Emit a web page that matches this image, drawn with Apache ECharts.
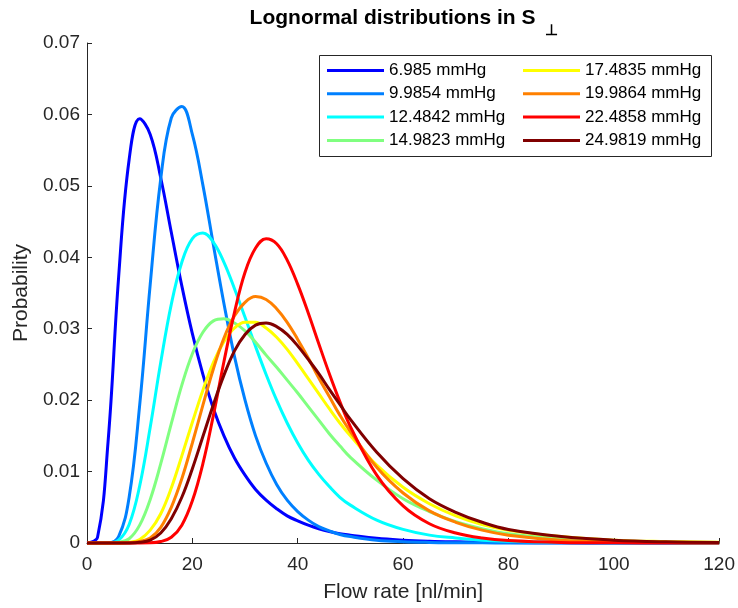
<!DOCTYPE html>
<html>
<head>
<meta charset="utf-8">
<script src="https://cdn.jsdelivr.net/npm/echarts@6/dist/echarts.min.js"></script>
<style>html,body{margin:0;padding:0;background:#fff;}#c{width:738px;height:608px;}</style>
</head>
<body>
<div id="c"></div>
<script>
const xValues = [0,2,4,6,8,10,12,14,16,18,20,22,24,26,28,30,32,34,36,38,40,42,44,46,48,50,55,60,65,70,75,80,90,100,110,120];
const seriesNames = ['6.985 mmHg','9.9854 mmHg','12.4842 mmHg','14.9823 mmHg','17.4835 mmHg','19.9864 mmHg','22.4858 mmHg','24.9819 mmHg'];
const p6985 = [0,0.0008,0.0142,0.0372,0.0537,0.0594,0.0572,0.0511,0.0435,0.0360,0.0293,0.0236,0.0188,0.0150,0.0119,0.0095,0.0075,0.0060,0.0048,0.0038,0.0031,0.0025,0.0020,0.0016,0.0013,0.0011,0.00065,0.0004,0.00025,0.00016,0.0001,0.00007,0.00003,0.00001,0.00001,0];
const p99854 = [0,0,0.00002,0.0009,0.0064,0.0193,0.0362,0.0510,0.0595,0.0611,0.0572,0.0501,0.0417,0.0335,0.0261,0.0200,0.0150,0.0112,0.0082,0.0060,0.0044,0.0032,0.0023,0.0017,0.0012,0.0009,0.0004,0.00018,0.00008,0.00004,0.00002,0.00001,0,0,0,0];
const p124842 = [0,0,0.00001,0.0004,0.0026,0.0080,0.0162,0.0253,0.0334,0.0393,0.0426,0.0434,0.0421,0.0393,0.0356,0.0316,0.0275,0.0236,0.0200,0.0168,0.0140,0.0116,0.0096,0.0079,0.0064,0.0053,0.0032,0.0019,0.0011,0.0007,0.0004,0.00025,0.00009,0.00004,0.00002,0.00001];
const p149823 = [0,0,0,0.0001,0.0006,0.0025,0.0061,0.0111,0.0167,0.0221,0.0265,0.0295,0.0311,0.0314,0.0308,0.0297,0.0281,0.0263,0.0246,0.0228,0.0210,0.0191,0.0172,0.0153,0.0136,0.0120,0.0088,0.0062,0.0044,0.0030,0.0020,0.0013,0.0006,0.00025,0.0001,0.00005];
const p174835 = [0,0,0,0.00001,0.0001,0.0005,0.0018,0.0041,0.0077,0.0122,0.0169,0.0214,0.0253,0.0282,0.0301,0.0309,0.0309,0.0301,0.0288,0.0271,0.0251,0.0230,0.0209,0.0188,0.0168,0.0150,0.0109,0.0078,0.0055,0.0038,0.0026,0.0018,0.0009,0.0004,0.0002,0.0001];
const p199864 = [0,0,0,0,0.00002,0.0002,0.0007,0.0022,0.0050,0.0090,0.0140,0.0193,0.0244,0.0287,0.0318,0.0337,0.0345,0.0341,0.0328,0.0309,0.0285,0.0259,0.0231,0.0205,0.0179,0.0156,0.0106,0.0070,0.0045,0.0029,0.0018,0.0011,0.0004,0.00017,0.00007,0.00003];
const p224858 = [0,0,0,0,0,0,0.00002,0.0002,0.0008,0.0025,0.0059,0.0111,0.0179,0.0254,0.0323,0.0379,0.0413,0.0426,0.0419,0.0396,0.0362,0.0322,0.0279,0.0237,0.0198,0.0163,0.0095,0.0052,0.0027,0.0014,0.0007,0.00035,0.00008,0.00002,0.00001,0];
const p249819 = [0,0,0,0,0.00001,0.0001,0.0004,0.0014,0.0034,0.0064,0.0104,0.0149,0.0194,0.0235,0.0269,0.0292,0.0305,0.0308,0.0303,0.0292,0.0276,0.0257,0.0237,0.0215,0.0194,0.0173,0.0127,0.0090,0.0062,0.0043,0.0029,0.0019,0.0009,0.0004,0.00017,0.00008];
const allValues = [p6985,p99854,p124842,p149823,p174835,p199864,p224858,p249819];
const xTicks = [0,20,40,60,80,100,120];
const yTicks = [0,0.01,0.02,0.03,0.04,0.05,0.06,0.07];

const colors = ['#0000ff','#0080ff','#00ffff','#80ff80','#ffff00','#ff8000','#ff0000','#800000'];
const FONT = '"Liberation Sans", Arial, Helvetica, sans-serif';
const AX = '#262626';

const chart = echarts.init(document.getElementById('c'), null, {renderer:'canvas'});
const series = seriesNames.map((n,i)=>({
  name:n, type:'line', smooth:0.4, showSymbol:false, clip:false,
  data: xValues.map((x,j)=>[x, allValues[i][j]]),
  lineStyle:{color:colors[i], width:3}, itemStyle:{color:colors[i]},
  emphasis:{disabled:true}, z:2+i
}));
const legendCommon = {
  orient:'vertical', itemWidth:57, itemHeight:3, icon:'rect', itemGap:6.3, padding:0,
  textStyle:{fontFamily:FONT, fontSize:17, color:'#000'}, selectedMode:false, z:10
};
chart.setOption({
  animation:false,
  backgroundColor:'#fff',
  title:{
    text:'{a|Lognormal distributions in S}{b|⊥}',
    left:404, top:8, textAlign:'center', padding:0,
    textStyle:{rich:{
      a:{fontFamily:FONT, fontSize:21, fontWeight:'bold', color:'#000', lineHeight:24, verticalAlign:'top'},
      b:{fontFamily:FONT, fontSize:15, color:'#000', lineHeight:15, padding:[15,0,0,10], verticalAlign:'top'}
    }}
  },
  graphic:[{type:'rect', left:319, top:55, z:9, shape:{width:392, height:101}, style:{fill:'#fff', stroke:AX, lineWidth:1}}],
  legend:[
    Object.assign({left:327, top:62, data:seriesNames.slice(0,4)}, legendCommon),
    Object.assign({left:523, top:62, data:seriesNames.slice(4)}, legendCommon)
  ],
  grid:{left:87, right:17, top:43, bottom:64, containLabel:false},
  xAxis:{
    type:'value', min:xTicks[0], max:xTicks[xTicks.length-1], interval:20,
    name:'Flow rate [nl/min]', nameLocation:'middle', nameGap:39,
    nameTextStyle:{fontFamily:FONT, fontSize:21, color:AX},
    axisLine:{lineStyle:{color:AX, width:1}},
    axisTick:{inside:true, length:5, lineStyle:{color:AX}},
    axisLabel:{fontFamily:FONT, fontSize:19, color:AX, margin:12},
    splitLine:{show:false}
  },
  yAxis:{
    type:'value', min:yTicks[0], max:yTicks[yTicks.length-1], interval:0.01,
    name:'Probability', nameLocation:'middle', nameGap:54,
    nameTextStyle:{fontFamily:FONT, fontSize:21, color:AX},
    axisLine:{show:true, lineStyle:{color:AX, width:1}},
    axisTick:{show:true, inside:true, length:5, lineStyle:{color:AX}},
    axisLabel:{fontFamily:FONT, fontSize:19, color:AX, margin:7,
      formatter:v=> v===0 ? '0' : v.toFixed(2)},
    splitLine:{show:false}
  },
  series: series
});
</script>
</body>
</html>
